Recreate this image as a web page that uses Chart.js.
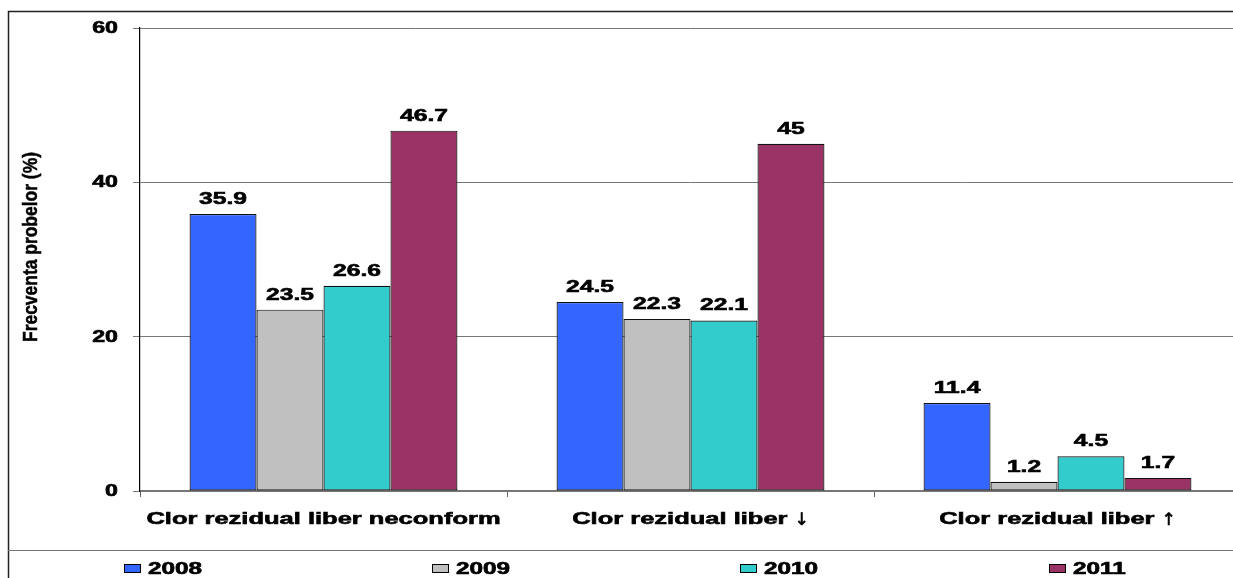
<!DOCTYPE html>
<html>
<head>
<meta charset="utf-8">
<script src="https://cdn.jsdelivr.net/npm/chart.js@4.4.1/dist/chart.umd.min.js"></script>
<style>
  html, body { margin: 0; padding: 0; background: #fff; overflow: hidden; }
  #wrap { position: relative; width: 1245px; height: 578px; }
</style>
</head>
<body>
<div id="wrap"><canvas id="c"></canvas></div>
<script>
// Categories and yearly series (% of samples)
const categories = ['Clor rezidual liber neconform', 'Clor rezidual liber \u2193', 'Clor rezidual liber \u2191'];
const years = ['2008', '2009', '2010', '2011'];
const values2008 = [35.9, 24.5, 11.4];
const values2009 = [23.5, 22.3, 1.2];
const values2010 = [26.6, 22.1, 4.5];
const values2011 = [46.7, 45, 1.7];
const yTicks = [0, 20, 40, 60];
const axisTitle = 'Frecventa probelor (%)';

const colors = ['#3366FF', '#C0C0C0', '#33CCCC', '#993366'];
const series = [values2008, values2009, values2010, values2011];

const FONT = '"Liberation Sans", Arial, sans-serif';
const ARROW_FONT = '"DejaVu Sans", sans-serif';
const CLEAR = 'rgba(0,0,0,0)';

// Heavy bold text widened horizontally around its anchor point
function wideText(ctx, text, x, y, size, stretch, align, baseline, family) {
  ctx.save();
  ctx.font = (family ? '' : 'bold ') + size + 'px ' + (family || FONT);
  ctx.fillStyle = '#000';
  ctx.strokeStyle = '#000';
  ctx.lineWidth = 0.6;
  ctx.textAlign = align;
  ctx.textBaseline = baseline;
  ctx.translate(x, y);
  ctx.scale(stretch, 1);
  ctx.fillText(text, 0, 0);
  ctx.strokeText(text, 0, 0);
  ctx.restore();
}

function textWidth(ctx, text, size, family) {
  ctx.save();
  ctx.font = (family ? '' : 'bold ') + size + 'px ' + (family || FONT);
  const w = ctx.measureText(text).width;
  ctx.restore();
  return w;
}

// Category label; a trailing arrow is set in a font with a full-height arrow
function categoryLabel(ctx, label, cx, y) {
  const size = 17, st = 1.5;
  const last = label.slice(-1);
  if (last === '\u2191' || last === '\u2193') {
    const main = label.slice(0, -1);
    const wm = textWidth(ctx, main, size) * st;
    const wa = textWidth(ctx, last, 17, ARROW_FONT);
    const left = cx - (wm + wa) / 2;
    wideText(ctx, main, left, y, size, st, 'left', 'alphabetic');
    wideText(ctx, last, left + wm, y + 1, 17, 1, 'left', 'alphabetic', ARROW_FONT);
  } else {
    wideText(ctx, label, cx, y, size, st, 'center', 'alphabetic');
  }
}

// Tick labels, category labels and value labels
const textLayer = {
  id: 'textLayer',
  afterDatasetsDraw(chart) {
    const ctx = chart.ctx;
    const xs = chart.scales.x, ys = chart.scales.y;
    ys.ticks.forEach(t => {
      wideText(ctx, String(t.value), 118, ys.getPixelForValue(t.value) + 0.5, 16, 1.45, 'right', 'middle');
    });
    categories.forEach((c, i) => categoryLabel(ctx, c, xs.getPixelForTick(i), 524));
    chart.data.datasets.forEach((ds, i) => {
      chart.getDatasetMeta(i).data.forEach((bar, j) => {
        wideText(ctx, String(ds.data[j]), bar.x, bar.y - 10, 17, 1.45, 'center', 'alphabetic');
      });
    });
  }
};

// Outer frame, axis title and the spread-out legend row
const frameAndLegend = {
  id: 'frameAndLegend',
  afterDraw(chart) {
    const ctx = chart.ctx;
    ctx.save();
    ctx.strokeStyle = '#222';
    ctx.lineWidth = 1.5;
    ctx.beginPath();
    ctx.moveTo(8.5, 578);
    ctx.lineTo(8.5, 11.5);
    ctx.lineTo(1245, 11.5);
    ctx.stroke();
    ctx.strokeStyle = '#777';
    ctx.lineWidth = 1.2;
    ctx.beginPath();
    ctx.moveTo(8, 550.5);
    ctx.lineTo(1245, 550.5);
    ctx.stroke();

    // rotated axis title, stretched along its length
    ctx.save();
    ctx.font = 'bold 16px ' + FONT;
    const w = ctx.measureText(axisTitle).width;
    ctx.translate(31, 247);
    ctx.rotate(-Math.PI / 2);
    ctx.scale(190 / w, 1.3);
    ctx.fillStyle = '#000';
    ctx.strokeStyle = '#000';
    ctx.lineWidth = 0.4;
    ctx.textAlign = 'center';
    ctx.textBaseline = 'middle';
    ctx.fillText(axisTitle, 0, 0);
    ctx.strokeText(axisTitle, 0, 0);
    ctx.restore();

    // legend items, one per quarter of the width
    const boxLefts = [124, 432, 740, 1049];
    chart.data.datasets.forEach((ds, i) => {
      const x = boxLefts[i];
      ctx.fillStyle = ds.backgroundColor;
      ctx.fillRect(x, 564, 17, 9);
      ctx.strokeStyle = '#000';
      ctx.lineWidth = 1;
      ctx.strokeRect(x + 0.5, 564.5, 16, 8);
      wideText(ctx, ds.label, x + 24, 574, 16, 1.52, 'left', 'alphabetic');
    });
    ctx.restore();
  }
};

new Chart(document.getElementById('c'), {
  type: 'bar',
  data: {
    labels: categories,
    datasets: years.map((y, i) => ({
      label: y,
      data: series[i],
      backgroundColor: colors[i],
      borderColor: '#111',
      borderWidth: 1.2,
      borderSkipped: false,
      categoryPercentage: 0.73,
      barPercentage: 1.0
    }))
  },
  options: {
    responsive: true,
    maintainAspectRatio: false,
    animation: false,
    devicePixelRatio: 1,
    layout: { padding: { left: 0, right: 4, top: 28, bottom: 0 } },
    plugins: { legend: { display: false }, tooltip: { enabled: false } },
    scales: {
      x: {
        grid: { drawOnChartArea: false, drawTicks: true, tickLength: 6, color: '#666', offset: true },
        border: { color: '#777', width: 1.5 },
        ticks: { color: CLEAR, font: { family: FONT, size: 16, weight: 'bold' }, padding: 12, maxRotation: 0 },
        afterFit(scale) { scale.height = 87; }
      },
      y: {
        min: 0,
        max: 60,
        afterBuildTicks(scale) { scale.ticks = yTicks.map(v => ({ value: v })); },
        grid: { color: '#777', lineWidth: 1, tickLength: 7, drawTicks: true },
        border: { color: '#000', width: 1.2 },
        ticks: { color: CLEAR, font: { family: FONT, size: 16, weight: 'bold' }, padding: 14 },
        afterFit(scale) { scale.width = 140; }
      }
    }
  },
  plugins: [textLayer, frameAndLegend]
});
</script>
</body>
</html>
